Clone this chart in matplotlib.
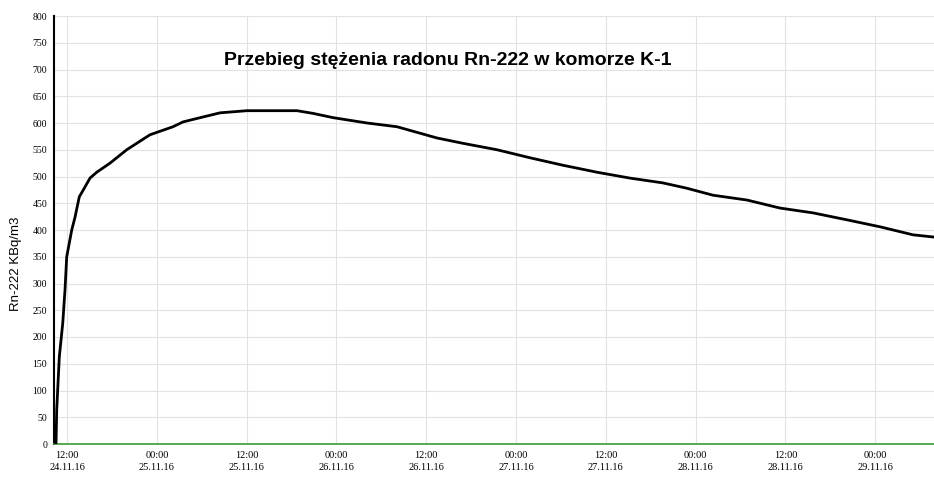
import numpy as np
import matplotlib
matplotlib.use("Agg")
from matplotlib import pyplot as plt

# hours counted from 24.11.16 12:00
hours = [-1.47, -1.38, -1.03, -0.57, -0.27, -0.04, 0.63, 1.07, 1.64, 2.18,
         3.07, 3.97, 5.75, 7.98, 11.09, 14.16, 15.50, 17.51, 20.45, 24.05,
         27.53, 30.73, 32.87, 35.55, 40.09, 44.10, 49.44, 52.92, 57.46, 61.87,
         66.28, 70.82, 75.23, 79.64, 82.85, 86.33, 90.87, 95.28, 99.69, 104.23,
         108.64, 113.05, 115.72]
radon = [0, 63, 163, 226, 288, 350, 400, 424, 462, 475,
         497, 508, 525, 550, 578, 593, 602, 609, 619, 623,
         623, 623, 618, 610, 600, 593, 572, 562, 550, 535,
         521, 508, 497, 488, 478, 465, 456, 441, 432, 419,
         406, 391, 387]

tick_hours = [0, 12, 24, 36, 48, 60, 72, 84, 96, 108]
tick_labels = ["12:00\n24.11.16", "00:00\n25.11.16", "12:00\n25.11.16",
               "00:00\n26.11.16", "12:00\n26.11.16", "00:00\n27.11.16",
               "12:00\n27.11.16", "00:00\n28.11.16", "12:00\n28.11.16",
               "00:00\n29.11.16"]
y_ticks = list(range(0, 801, 50))

title = "Przebieg stężenia radonu Rn-222 w komorze K-1"
ylabel = "Rn-222 KBq/m3"

fig = plt.figure(figsize=(9.34, 4.82), dpi=100)
ax = fig.add_axes([54/934, 38/482, 1 - 54/934, 428/482])

ax.set_xlim(-1.74, 115.86)
ax.set_ylim(0, 800)

ax.grid(True, color="#e2e2e2", linewidth=0.8)
ax.set_axisbelow(True)

ax.axhline(0, color="#3a9a3a", linewidth=1.2, zorder=3, clip_on=False)
ax.plot(hours, radon, color="black", linewidth=2.0, zorder=4)

ax.set_xticks(tick_hours)
ax.set_xticklabels(tick_labels, fontsize=7.5, family="Liberation Serif",
                   linespacing=1.5)
ax.set_yticks(y_ticks)
ax.set_yticklabels([str(v) for v in y_ticks], fontsize=7, family="Liberation Serif")
ax.tick_params(axis="both", length=0, pad=5)

for s in ["top", "right", "bottom"]:
    ax.spines[s].set_visible(False)
ax.spines["left"].set_linewidth(1.5)

ax.set_ylabel(ylabel, fontsize=9.5, family="Liberation Sans")
ax.yaxis.set_label_coords(-0.036, 0.42)

ax.text(0.447, 0.895, title, transform=ax.transAxes, ha="center", va="center",
        fontsize=14, fontweight="bold", family="Liberation Sans")

fig.savefig("out.png", dpi=100)
